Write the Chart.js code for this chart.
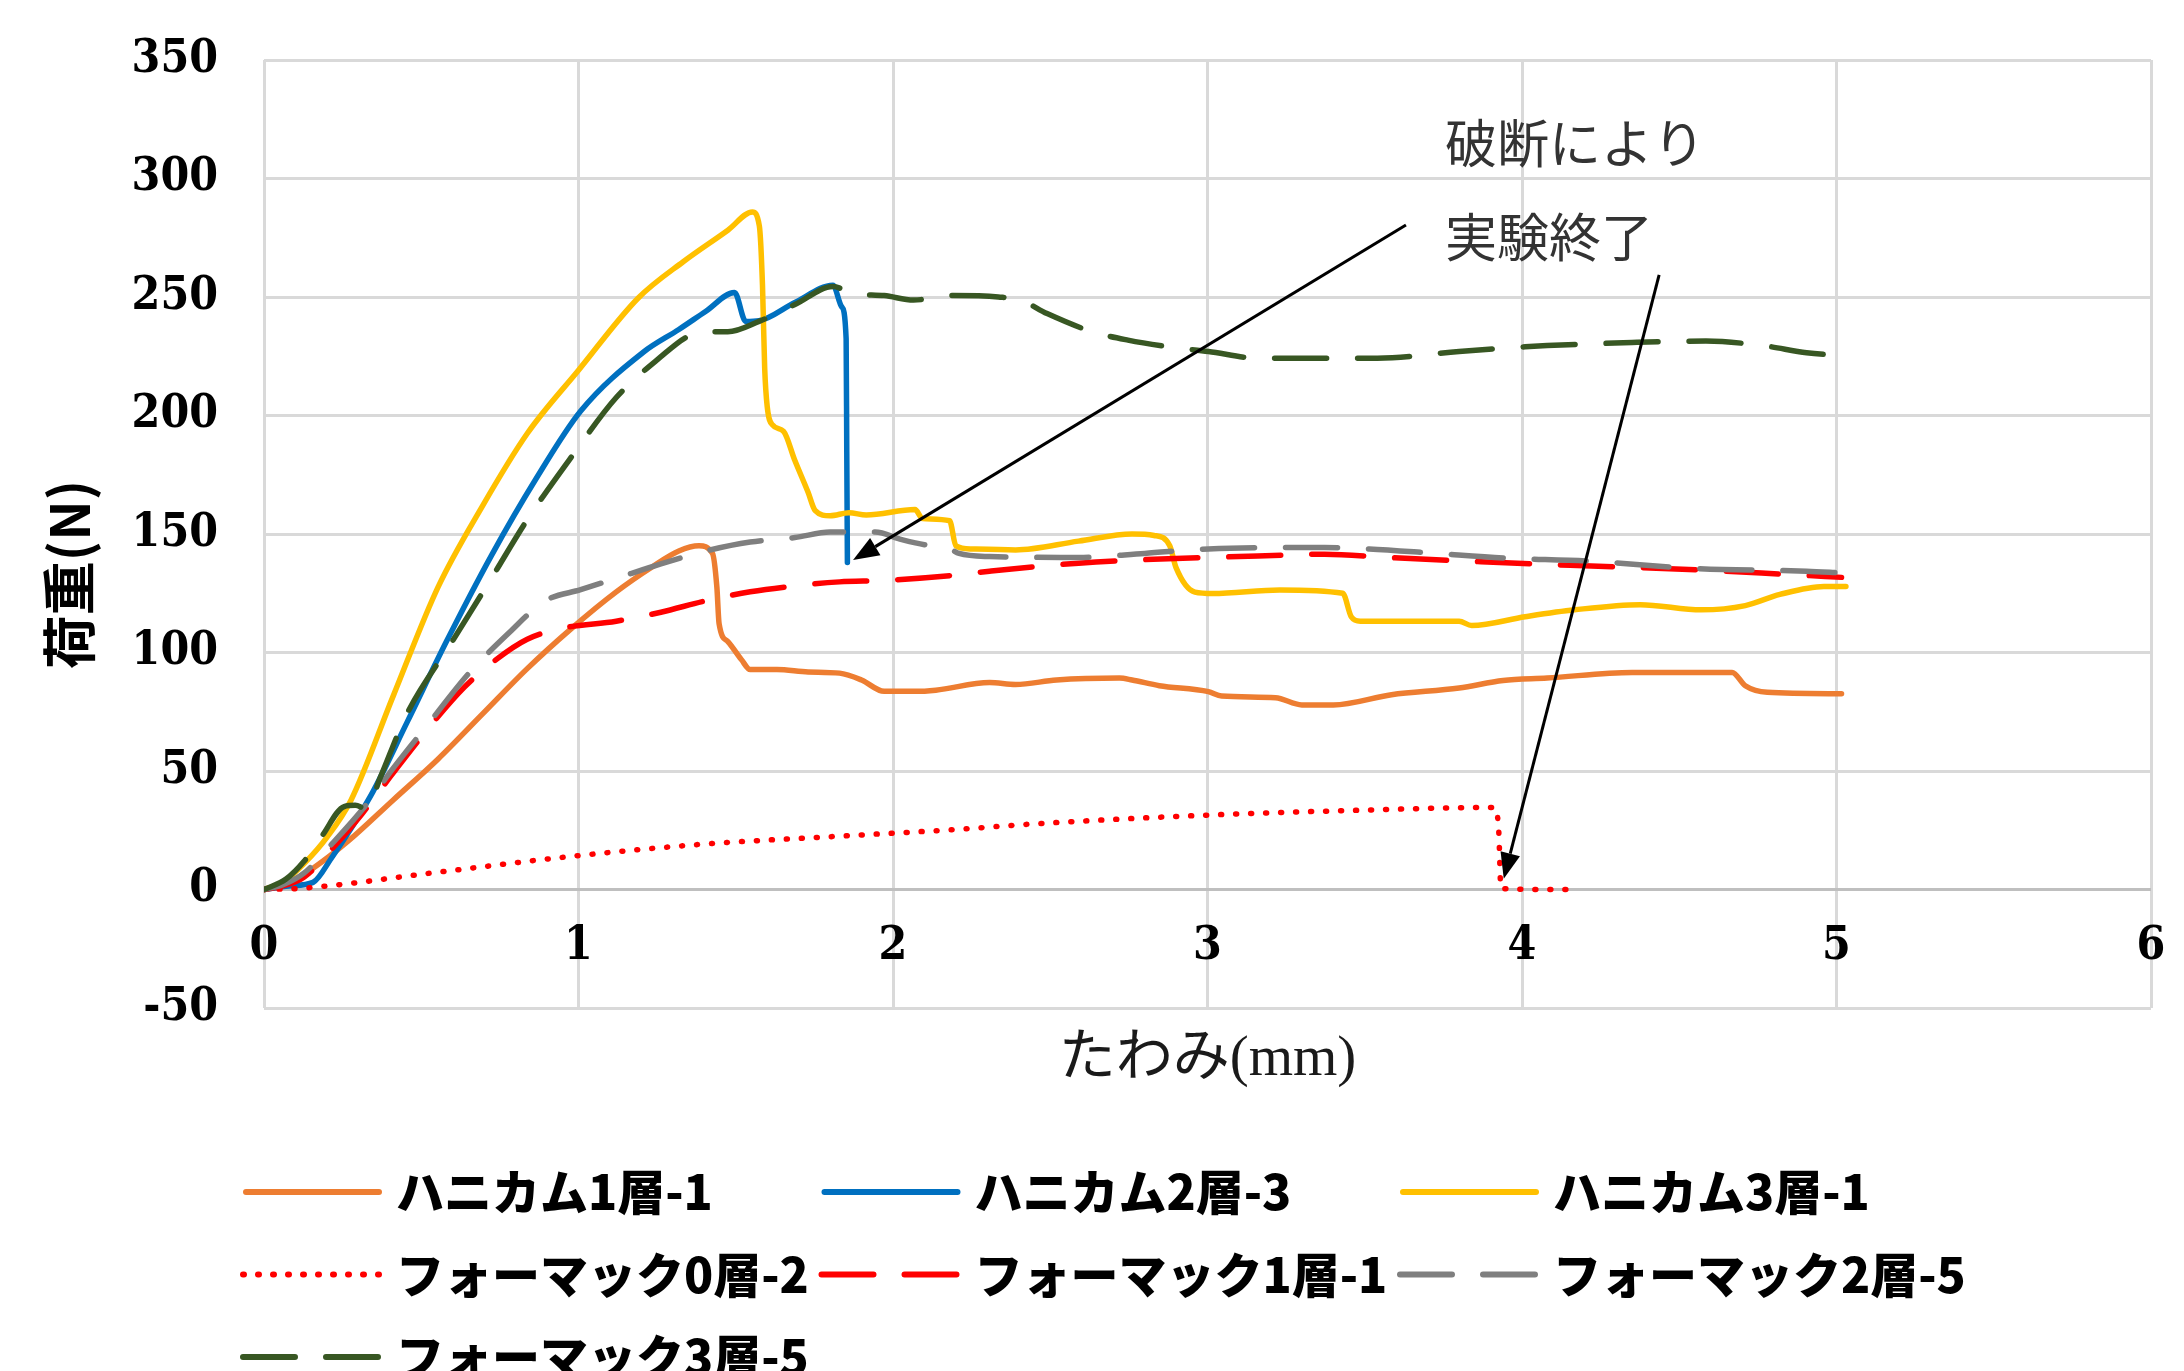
<!DOCTYPE html>
<html lang="ja">
<head>
<meta charset="utf-8">
<title>荷重－たわみ曲線</title>
<script src="https://cdn.jsdelivr.net/npm/chart.js@4.4.1/dist/chart.umd.min.js"></script>
<style>
  html, body { margin: 0; padding: 0; background: #ffffff; }
  canvas { display: block; }
</style>
</head>
<body>
<canvas id="chart" width="2184" height="1371"></canvas>
<script>
// ---- measured load–deflection data (deflection in mm, load in N) ----
const seriesNames = [
  'ハニカム1層-1', 'ハニカム2層-3', 'ハニカム3層-1',
  'フォーマック0層-2', 'フォーマック1層-1', 'フォーマック2層-5',
  'フォーマック3層-5'
];

const honeycomb1X = [0, 0.07, 0.156, 0.27, 0.411, 0.553, 0.695, 0.837, 0.979, 1.12, 1.234, 1.319, 1.383, 1.426, 1.44, 1.447, 1.475, 1.518, 1.546, 1.631, 1.73, 1.83, 1.9, 1.972, 2.07, 2.136, 2.307, 2.39, 2.52, 2.72, 2.76, 2.847, 3.003, 3.045, 3.216, 3.3, 3.4, 3.585, 3.8, 3.94, 4.08, 4.35, 4.668, 4.71, 4.78, 5.016];
const honeycomb1Y = [0, 2.5, 9, 20.7, 37.8, 55, 74.1, 93.2, 110.3, 125.6, 136.1, 142.8, 145, 141.8, 127.5, 112.2, 104.6, 97, 92.8, 92.8, 91.8, 91.3, 88.4, 83.6, 83.6, 84.1, 87.3, 86.5, 88.4, 89.2, 88.4, 86, 83.5, 81.6, 80.9, 77.9, 77.9, 82.2, 85, 88.2, 89.2, 91.6, 91.6, 86, 83.2, 82.6];

const honeycomb2X = [0, 0.08, 0.156, 0.213, 0.34, 0.454, 0.58, 0.723, 0.865, 1.007, 1.206, 1.319, 1.404, 1.496, 1.532, 1.574, 1.688, 1.809, 1.837, 1.851, 1.853, 1.855];
const honeycomb2Y = [0, 1.5, 3, 13, 39.7, 70.3, 104.6, 140.9, 173.3, 201.9, 226.7, 236.3, 243.9, 251.9, 239.7, 240, 247.7, 255, 245.8, 232.4, 184.7, 138];

const honeycomb3X = [0, 0.06, 0.128, 0.2, 0.277, 0.411, 0.553, 0.695, 0.837, 1.0, 1.19, 1.333, 1.475, 1.553, 1.575, 1.585, 1.592, 1.6, 1.617, 1.652, 1.688, 1.73, 1.752, 1.8, 1.86, 1.915, 2.07, 2.094, 2.18, 2.2, 2.25, 2.39, 2.59, 2.76, 2.83, 2.88, 2.9, 2.96, 3.017, 3.23, 3.43, 3.457, 3.486, 3.8, 3.84, 4.01, 4.167, 4.376, 4.57, 4.71, 4.82, 4.96, 5.03];
const honeycomb3Y = [0, 3, 11, 22, 37.8, 81.7, 127.5, 161.9, 192.4, 219.1, 249.6, 264.9, 278.2, 285.9, 280, 255, 220, 203.8, 196, 193.3, 181, 167.6, 160, 157.7, 159, 158, 160.3, 156.5, 155.6, 145, 143.7, 143.3, 147, 150, 149.4, 145, 135.8, 125.5, 124.9, 126.4, 125, 115.1, 113.2, 113.2, 111.4, 115.1, 118, 120.2, 118, 119.8, 124.5, 127.9, 127.9];

const formac0X = [0, 0.128, 0.553, 0.979, 1.404, 1.83, 2.21, 2.45, 3.003, 3.443, 3.912, 3.926, 3.933, 4.14];
const formac0Y = [0, 0.6, 7.3, 14, 19.2, 22.5, 25.4, 27.7, 31.4, 33.3, 34.6, 24.8, 0.4, 0];

const formac1X = [0, 0.06, 0.128, 0.227, 0.312, 0.411, 0.525, 0.638, 0.738, 0.837, 0.95, 1.12, 1.262, 1.404, 1.546, 1.688, 1.83, 1.972, 2.17, 2.307, 2.59, 2.875, 3.16, 3.372, 3.585, 3.87, 4.153, 4.557, 4.835, 5.016];
const formac1Y = [0, 1.5, 5.3, 18.7, 32, 49.2, 68.4, 85.5, 97, 105.6, 110.3, 113.2, 117, 121.8, 125.6, 128.1, 129.8, 130.4, 132.3, 134.3, 137.7, 139.6, 140.7, 141.5, 140, 138.3, 136.8, 134.9, 133, 131.7];

const formac2X = [0, 0.06, 0.128, 0.213, 0.326, 0.411, 0.525, 0.652, 0.78, 0.894, 1.007, 1.12, 1.262, 1.404, 1.546, 1.688, 1.8, 1.943, 2.028, 2.1, 2.17, 2.21, 2.307, 2.59, 2.8, 3.003, 3.372, 3.514, 3.727, 3.94, 4.21, 4.557, 4.905, 5.016];
const formac2Y = [0, 2, 7, 18.8, 35.9, 51.2, 70.3, 91.3, 108.4, 121.8, 126.5, 131.3, 137.4, 142.8, 146.6, 148.5, 150.8, 150.8, 147.6, 145.5, 144.5, 141.8, 140.5, 140.1, 141.8, 143.7, 144.3, 143.7, 141.8, 139.9, 138.6, 135.4, 134.3, 133.6];

const formac3X = [0, 0.07, 0.128, 0.184, 0.255, 0.29, 0.326, 0.369, 0.454, 0.6, 0.723, 0.837, 0.979, 1.12, 1.262, 1.348, 1.404, 1.475, 1.574, 1.688, 1.809, 1.872, 1.972, 2.065, 2.19, 2.335, 2.405, 2.49, 2.63, 2.747, 2.875, 3.003, 3.16, 3.27, 3.54, 3.8, 4.01, 4.08, 4.35, 4.585, 4.765, 4.905, 5.016];
const formac3Y = [0, 4.4, 12, 22.5, 35, 35.5, 34, 47, 74, 105, 131.3, 156, 182.8, 207.6, 224.8, 233.4, 235.3, 235.3, 239.7, 246.8, 254.4, 251.5, 250.6, 248.7, 250.6, 250, 248.7, 243, 235.5, 231.8, 229, 227, 224.2, 224.2, 224.2, 227, 229, 229.5, 230.8, 231.4, 229.5, 226.5, 225.2];

// axis ticks
const xTickValues = [0, 1, 2, 3, 4, 5, 6];
const yTickValues = [-50, 0, 50, 100, 150, 200, 250, 300, 350];

// callout texts and arrows (in data units)
const noteTexts = ['破断により', '実験終了'];
const noteX = [3.755, 3.755];
const noteY = [315, 275.3];
const arrowFromX = [3.631, 4.436];
const arrowFromY = [280.4, 259.3];
const arrowToX = [1.873, 3.942];
const arrowToY = [139, 4.5];

// ---- styling ----
const pairs = (xs, ys) => xs.map((x, i) => ({ x, y: ys[i] }));
const DASH = [52, 31];
const DOT = [1, 14];

const seriesData = [
  pairs(honeycomb1X, honeycomb1Y), pairs(honeycomb2X, honeycomb2Y), pairs(honeycomb3X, honeycomb3Y),
  pairs(formac0X, formac0Y), pairs(formac1X, formac1Y), pairs(formac2X, formac2Y), pairs(formac3X, formac3Y)
];
const seriesColors = ['#ED7D31', '#0070C0', '#FFC000', '#FF0000', '#FF0000', '#7F7F7F', '#385723'];
const seriesDashes = [[], [], [], DOT, DASH, DASH, DASH];

const datasets = seriesNames.map((name, i) => ({
  label: name,
  data: seriesData[i],
  borderColor: seriesColors[i],
  backgroundColor: seriesColors[i],
  borderWidth: 5.5,
  borderDash: seriesDashes[i],
  borderCapStyle: 'round',
  borderJoinStyle: 'round',
  pointRadius: 0,
  cubicInterpolationMode: 'monotone',
  fill: false,
  order: seriesNames.length - i   // later series drawn on top
}));

// Legend laid out in fixed columns below the plot
const columnLegend = {
  id: 'columnLegend',
  afterDraw(chart, args, o) {
    const ctx = chart.ctx;
    chart.data.datasets.forEach((ds, i) => {
      const col = i % o.columns, row = Math.floor(i / o.columns);
      const x = o.left + col * o.colWidth;
      const y = o.top + row * o.rowHeight;
      ctx.save();
      ctx.strokeStyle = ds.borderColor;
      ctx.lineWidth = o.lineWidth;
      ctx.lineCap = 'round';
      ctx.setLineDash(ds.borderDash || []);
      ctx.beginPath();
      const inset = (ds.borderDash && ds.borderDash.length) ? 0 : o.lineWidth / 2;
      ctx.moveTo(x + inset, y);
      ctx.lineTo(x + o.sampleWidth - inset, y);
      ctx.stroke();
      ctx.setLineDash([]);
      ctx.fillStyle = o.color;
      ctx.font = o.font;
      ctx.textAlign = 'left';
      ctx.textBaseline = 'middle';
      ctx.fillText(ds.label, x + o.sampleWidth + o.gap, y);
      ctx.restore();
    });
  }
};

// Callout texts with arrows, positioned through the chart scales
const callouts = {
  id: 'callouts',
  afterDatasetsDraw(chart, args, o) {
    const { ctx, scales: { x, y } } = chart;
    ctx.save();
    ctx.fillStyle = o.textColor;
    ctx.font = o.font;
    ctx.textAlign = 'left';
    ctx.textBaseline = 'middle';
    noteTexts.forEach((t, i) => ctx.fillText(t, x.getPixelForValue(noteX[i]), y.getPixelForValue(noteY[i])));
    ctx.strokeStyle = o.arrowColor;
    ctx.fillStyle = o.arrowColor;
    ctx.lineWidth = o.lineWidth;
    arrowFromX.forEach((_, i) => {
      const x0 = x.getPixelForValue(arrowFromX[i]), y0 = y.getPixelForValue(arrowFromY[i]);
      const x1 = x.getPixelForValue(arrowToX[i]), y1 = y.getPixelForValue(arrowToY[i]);
      const ang = Math.atan2(y1 - y0, x1 - x0);
      const hl = o.headLength, hw = o.headWidth;
      const bx = x1 - hl * Math.cos(ang), by = y1 - hl * Math.sin(ang);
      ctx.beginPath();
      ctx.moveTo(x0, y0);
      ctx.lineTo(bx, by);
      ctx.stroke();
      ctx.beginPath();
      ctx.moveTo(x1, y1);
      ctx.lineTo(bx + hw * Math.sin(ang), by - hw * Math.cos(ang));
      ctx.lineTo(bx - hw * Math.sin(ang), by + hw * Math.cos(ang));
      ctx.closePath();
      ctx.fill();
    });
    ctx.restore();
  }
};

const tickFont = { family: '"DejaVu Serif Condensed", "Liberation Serif", serif', weight: 'bold', size: 46 };

new Chart(document.getElementById('chart'), {
  type: 'line',
  data: { datasets },
  plugins: [columnLegend, callouts],
  options: {
    responsive: false,
    animation: false,
    layout: { padding: { top: 60, right: 33, bottom: 284, left: 0 } },
    plugins: {
      legend: { display: false },
      tooltip: { enabled: false },
      columnLegend: {
        columns: 3, left: 243, top: 1192, colWidth: 578.5, rowHeight: 82.5,
        sampleWidth: 139, gap: 14, lineWidth: 6, color: '#000000',
        font: '900 48px "Noto Sans CJK JP"'
      },
      callouts: {
        font: '52px "Noto Sans CJK JP"', textColor: '#333333',
        arrowColor: '#000000', lineWidth: 3, headLength: 26, headWidth: 10
      }
    },
    scales: {
      x: {
        type: 'linear', min: 0, max: 6,
        afterBuildTicks: s => { s.ticks = xTickValues.map(v => ({ value: v })); },
        afterFit: s => { s.height = 79; s.paddingLeft = 0; s.paddingRight = 0; },
        ticks: { font: tickFont, color: '#000000', mirror: true, padding: 33, maxRotation: 0, autoSkip: false },
        grid: { color: '#d9d9d9', lineWidth: 3, drawTicks: false },
        border: { display: false },
        title: {
          display: true, text: 'たわみ(mm)', color: '#1a1a1a',
          font: { family: '"Liberation Serif", "Noto Sans CJK JP"', size: 57 },
          padding: { top: 0, bottom: -7 }
        }
      },
      y: {
        type: 'linear', min: -50, max: 350,
        afterBuildTicks: s => { s.ticks = yTickValues.map(v => ({ value: v })); },
        afterFit: s => { s.width = 264; s.paddingTop = 0; s.paddingBottom = 0; },
        ticks: { font: tickFont, color: '#000000', padding: 46 },
        grid: {
          color: c => (c.tick && c.tick.value === 0 ? '#bfbfbf' : '#d9d9d9'),
          lineWidth: 3, drawTicks: false
        },
        border: { display: false },
        title: {
          display: true, text: '荷重(N)\u3000\u2002', color: '#000000',
          font: { family: '"Noto Sans CJK JP"', weight: 'bold', size: 54 },
          padding: { top: 37, bottom: 0 }
        }
      }
    }
  }
});
</script>
</body>
</html>
